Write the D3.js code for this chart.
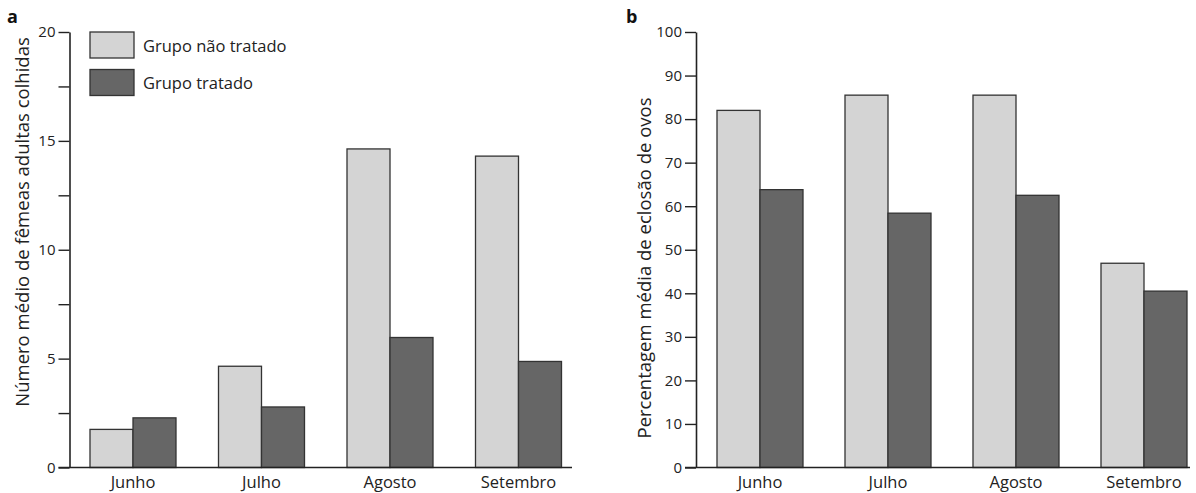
<!DOCTYPE html>
<html>
<head>
<meta charset="utf-8">
<script src="https://cdn.jsdelivr.net/npm/d3@7"></script>
<style>
  html, body { margin: 0; padding: 0; background: #fff; }
  svg { display: block; font-family: "Open Sans", sans-serif; }
</style>
</head>
<body>
<svg id="chart" width="1196" height="493"></svg>
<script>
const categories = ["Junho", "Julho", "Agosto", "Setembro"];
const seriesNames = ["Grupo não tratado", "Grupo tratado"];
const femeasNaoTratado = [1.75, 4.65, 14.63, 14.3];
const femeasTratado = [2.28, 2.78, 5.97, 4.87];
const eclosaoNaoTratado = [82.0, 85.5, 85.5, 46.9];
const eclosaoTratado = [63.8, 58.4, 62.5, 40.5];
const ticksA = [0, 2.5, 5, 7.5, 10, 12.5, 15, 17.5, 20];
const ticksB = [0, 10, 20, 30, 40, 50, 60, 70, 80, 90, 100];
const titleA = "Número médio de fêmeas adultas colhidas";
const titleB = "Percentagem média de eclosão de ovos";

const colors = ["#d4d4d4", "#666666"];
const svg = d3.select("#chart");

function panel(opts) {
  const g = svg.append("g");
  const y = d3.scaleLinear().domain([0, opts.max]).range([467.5, 32]);
  const x0 = d3.scaleBand().domain(categories).range(opts.xr)
    .paddingInner(opts.pi).paddingOuter(opts.pi / 2);
  const x1 = d3.scaleBand().domain(seriesNames).range([0, x0.bandwidth()]).padding(0);

  const data = categories.map((c, i) => ({cat: c, vals: [opts.s1[i], opts.s2[i]]}));
  const grp = g.selectAll("g.cat").data(data).enter().append("g")
    .attr("transform", d => `translate(${x0(d.cat)},0)`);
  grp.selectAll("rect").data(d => d.vals.map((v, j) => ({v, j}))).enter().append("rect")
    .attr("x", d => x1(seriesNames[d.j]))
    .attr("width", x1.bandwidth())
    .attr("y", d => y(d.v))
    .attr("height", d => y(0) - y(d.v))
    .attr("fill", d => colors[d.j])
    .attr("stroke", "#333")
    .attr("stroke-width", 1.3);

  const ax = g.append("g").attr("transform", `translate(${opts.axisX},0)`)
    .call(d3.axisLeft(y).tickValues(opts.ticks).tickSize(11).tickSizeOuter(0).tickPadding(3)
      .tickFormat(opts.fmt));
  ax.select(".domain").attr("stroke", "#222").attr("stroke-width", 1.6);
  ax.selectAll(".tick line").attr("stroke", "#222").attr("stroke-width", 1.4);
  ax.selectAll(".tick text").attr("font-size", 15).attr("fill", "#222")
    .attr("font-family", "Open Sans, sans-serif");

  // baseline
  g.append("line")
    .attr("x1", opts.axisX - 11).attr("x2", opts.baseEnd)
    .attr("y1", y(0)).attr("y2", y(0))
    .attr("stroke", "#222").attr("stroke-width", 1.6);

  // category labels
  g.selectAll("text.cat").data(categories).enter().append("text")
    .attr("x", d => x0(d) + x0.bandwidth() / 2)
    .attr("y", 487.5)
    .attr("text-anchor", "middle")
    .attr("font-size", 16.5)
    .attr("fill", "#222")
    .text(d => d);

  // axis title
  g.append("text")
    .attr("transform", `translate(${opts.titleX},${opts.titleY}) rotate(-90)`)
    .attr("text-anchor", "middle")
    .attr("dominant-baseline", "central")
    .attr("font-size", 18.5)
    .attr("fill", "#222")
    .text(opts.title);

  // panel label
  g.append("text")
    .attr("x", opts.labelX).attr("y", 23)
    .attr("font-size", 18).attr("font-weight", "bold").attr("fill", "#111")
    .text(opts.label);
}

panel({
  max: 20, xr: [68.75, 582.75], pi: 1 - 86 / 128.5, s1: femeasNaoTratado, s2: femeasTratado,
  axisX: 69.5, ticks: ticksA, fmt: d => (d % 5 === 0 ? d : ""), baseEnd: 572,
  title: titleA, titleX: 21, titleY: 222, label: "a", labelX: 7
});
panel({
  max: 100, xr: [696, 1208], pi: 1 - 86 / 128, s1: eclosaoNaoTratado, s2: eclosaoTratado,
  axisX: 696, ticks: ticksB, fmt: d => d, baseEnd: 1190,
  title: titleB, titleX: 643, titleY: 268, label: "b", labelX: 626
});

// legend
const leg = svg.append("g");
seriesNames.forEach((name, i) => {
  leg.append("rect")
    .attr("x", 90).attr("y", 32 + i * 37.5)
    .attr("width", 44).attr("height", 26)
    .attr("fill", colors[i]).attr("stroke", "#333").attr("stroke-width", 1.3);
  leg.append("text")
    .attr("x", 143).attr("y", 45 + i * 37.5)
    .attr("dominant-baseline", "central")
    .attr("font-size", 16.5).attr("fill", "#222")
    .text(name);
});
</script>
</body>
</html>
